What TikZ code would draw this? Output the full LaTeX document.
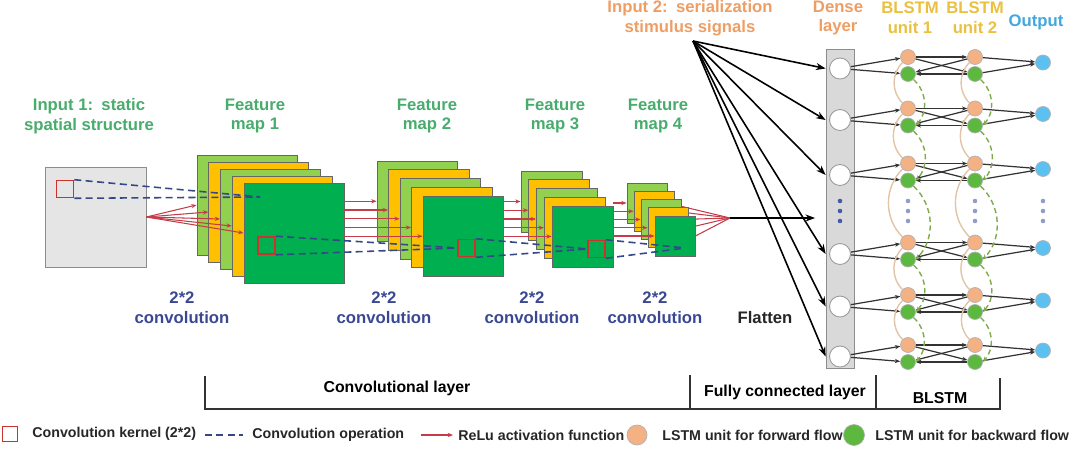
\documentclass[tikz,border=0pt]{standalone}
\usepackage{fontspec}
\setmainfont{Liberation Sans}
\usetikzlibrary{arrows.meta,backgrounds,calc}

\definecolor{txtgreen}{RGB}{72,172,108}
\definecolor{txtorange}{RGB}{238,158,100}
\definecolor{txtyellow}{RGB}{234,192,64}
\definecolor{txtblue}{RGB}{64,168,222}
\definecolor{convblue}{RGB}{58,72,148}
\definecolor{lgreen}{RGB}{146,208,80}
\definecolor{gold}{RGB}{255,192,0}
\definecolor{dgreen}{RGB}{0,176,80}
\definecolor{kernred}{RGB}{205,50,45}
\definecolor{relured}{RGB}{196,60,72}
\definecolor{dashblue}{RGB}{52,72,135}
\definecolor{fwcol}{RGB}{244,177,131}
\definecolor{bwcol}{RGB}{92,184,62}
\definecolor{outcol}{RGB}{92,192,240}
\definecolor{fwline}{RGB}{226,196,166}
\definecolor{bwline}{RGB}{128,170,78}
\definecolor{dotblue}{RGB}{70,90,170}

\begin{document}
\begin{tikzpicture}[x=0.02cm,y=-0.02cm,
    lbl/.style={font=\bfseries\fontsize{9.5}{11.3}\selectfont, align=center, inner sep=0},
    legtxt/.style={font=\bfseries\fontsize{8.1}{10}\selectfont, anchor=west, inner sep=0, text=black!85},
    fmap/.style={draw=black!60, line width=0.5pt, inner sep=0},
    kern/.style={draw=kernred, line width=0.9pt, minimum size=0.34cm, inner sep=0},
    relu/.style={draw=relured, line width=0.6pt, -{Stealth[length=3pt,width=2.4pt]}},
    convop/.style={draw=dashblue, line width=0.9pt, dash pattern=on 4pt off 2.5pt},
    sigline/.style={draw=black, line width=0.9pt, -{Stealth[length=5.5pt,width=4pt]}},
    densecell/.style={circle, draw=black!40, fill=white, line width=0.5pt, minimum size=0.42cm, inner sep=0},
    fwcell/.style={circle, draw=black!30, fill=fwcol, line width=0.4pt, minimum size=0.3cm, inner sep=0},
    bwcell/.style={circle, draw=black!30, fill=bwcol, line width=0.4pt, minimum size=0.3cm, inner sep=0},
    outcell/.style={circle, draw=black!30, fill=outcol, line width=0.4pt, minimum size=0.3cm, inner sep=0},
    cellink/.style={draw=black!80, line width=0.7pt, -{Stealth[length=3pt,width=2.4pt]}},
    fwcurve/.style={draw=fwline, line width=0.8pt},
    bwcurve/.style={draw=bwline, line width=0.8pt, dash pattern=on 3pt off 2pt, -{Stealth[length=3pt,width=2.6pt]}},
    brk/.style={draw=black!80, line width=0.8pt}]

    \useasboundingbox (0,0) rectangle (1080,467);

    % input 1 and feature maps
    \node[draw=black!45, fill=black!10, minimum width=2.02cm, minimum height=2cm, inner sep=0] (in1) at (95.5,217) {};
    \node[kern] (k0) at (65,189) {};

    \foreach \m/\x/\y/\s/\dx/\dy in {1/197/155/100/11.75/7, 2/377/161/80.5/11.5/8.75,
                                     3/521/171/61/7.75/8.75, 4/627/183/40/7/8.25}
        \foreach \l/\c [count=\n from 0] in {a/lgreen,b/gold,c/lgreen,d/gold,e/dgreen}
            \node[fmap, fill=\c, minimum size=\s*0.02cm] (m\m\l) at ({\x+\s/2+\n*\dx},{\y+\s/2+\n*\dy}) {};

    \node[kern] (k1) at (266.5,245.5) {};
    \node[kern] (k2) at (466.5,248) {};
    \node[kern] (k3) at (596.5,249) {};

    \coordinate (c1) at (260,197);
    \coordinate (c4) at (685,248);
    \coordinate (flat) at (730,218);

    % relu arrows
    \foreach \l in {a,...,e} {
        \draw[relu] (in1.east) -- (m1\l.west);
        \draw[relu] (m1e.east |- m2\l.west) -- (m2\l.west);
        \draw[relu] (m2e.east |- m3\l.west) -- (m3\l.west);
        \draw[relu] (m3e.east |- m4\l.west) -- (m4\l.west);
    }
    \begin{scope}[on background layer]
        \foreach \l in {a,...,e}
            \draw[relured, line width=0.6pt] (m4\l.east) -- (flat);
    \end{scope}

    % convolution operation
    \draw[convop] (k0.north east) -- (c1);
    \draw[convop] (k0.south east) -- (c1);
    \draw[convop] (k1.north east) -- (k2.west);
    \draw[convop] (k1.south east) -- (k2.west);
    \draw[convop] (k2.north east) -- (k3.west);
    \draw[convop] (k2.south east) -- (k3.west);
    \draw[convop] (k3.north east) -- (c4);
    \draw[convop] (k3.south east) -- (c4);

    % dense layer and BLSTM
    \node[draw=black!45, fill=black!15, minimum width=0.56cm, minimum height=6.38cm, inner sep=0] (dense) at (840,208.5) {};
    \coordinate (sigsrc) at (693,41);

    \foreach \i/\yy in {1/65.5,2/117,3/172,4/251,5/303.5,6/353.5} {
        \node[densecell] (d\i) at (840,\yy+3) {};
        \node[fwcell] (fa\i) at (908,\yy-8.5) {};
        \node[bwcell] (ba\i) at (908,\yy+8.5) {};
        \node[fwcell] (fb\i) at (975,\yy-8.5) {};
        \node[bwcell] (bb\i) at (975,\yy+8.5) {};
        \node[outcell] (o\i) at (1043,\yy-3) {};
        \draw[sigline] (sigsrc) -- (dense.west |- d\i);
        \draw[cellink] (d\i) -- (fa\i);
        \draw[cellink] (d\i) -- (ba\i);
        \draw[cellink] (fa\i) -- (fb\i);
        \draw[cellink] (fa\i) -- (bb\i);
        \draw[cellink] (fb\i) -- (ba\i);
        \draw[cellink] (bb\i) -- (ba\i);
        \draw[cellink] (fb\i) -- (o\i);
        \draw[cellink] (bb\i) -- (o\i);
    }
    \draw[sigline, shorten >=6pt] (flat) -- (dense.west |- flat);

    \foreach \i [count=\j from 2] in {1,...,5} {
        \draw[fwcurve] (fa\i.south west) to[bend right=45] (fa\j.north west);
        \draw[fwcurve] (fb\i.south west) to[bend right=45] (fb\j.north west);
        \draw[bwcurve] (ba\i.south east) to[bend left=45] (ba\j.east);
        \draw[bwcurve] (bb\i.south east) to[bend left=45] (bb\j.east);
    }

    \foreach \x/\c in {840/dotblue,908/dotblue!60,975/dotblue!60,1043/dotblue!60}
        \foreach \yy in {201,211,221}
            \fill[\c] (\x,\yy) circle (1.3pt);

    % labels
    \node[lbl, text=txtgreen] (lin1) at (89,116) {Input 1:\enspace static\\spatial structure};
    \node[lbl, text=txtgreen] (lfm1) at (255,116) {Feature\\map 1};
    \node[lbl, text=txtgreen] (lfm2) at (427,116) {Feature\\map 2};
    \node[lbl, text=txtgreen] (lfm3) at (555,116) {Feature\\map 3};
    \node[lbl, text=txtgreen] (lfm4) at (658,116) {Feature\\map 4};
    \node[lbl, text=convblue] (lcv1) at (182,308) {2*2\\convolution};
    \node[lbl, text=convblue] (lcv2) at (384,308) {2*2\\convolution};
    \node[lbl, text=convblue] (lcv3) at (532,308) {2*2\\convolution};
    \node[lbl, text=convblue] (lcv4) at (655,308) {2*2\\convolution};
    \node[lbl, text=black!85] (lflat) at (765,318) {Flatten};
    \node[lbl, text=txtorange] (lin2) at (690,18) {Input 2:\enspace serialization\\stimulus signals};
    \node[lbl, text=txtorange] (ldense) at (838,18) {Dense\\layer};
    \node[lbl, text=txtyellow] (lunit1) at (910,18) {BLSTM\\unit 1};
    \node[lbl, text=txtyellow] (lunit2) at (975,18) {BLSTM\\unit 2};
    \node[lbl, text=txtblue] (lout) at (1036,22) {Output};

    % layer brackets
    \draw[brk] (205,376) -- (205,409) -- (1000,409) -- (1000,378);
    \draw[brk] (690,375) -- (690,409);
    \draw[brk] (876,375) -- (876,409);
    \node[lbl, font=\bfseries\fontsize{9}{11}\selectfont] (lconv) at (397,388) {Convolutional layer};
    \node[lbl, font=\bfseries\fontsize{9}{11}\selectfont] (lfc) at (785,392) {Fully connected layer};
    \node[lbl, font=\bfseries\fontsize{9}{11}\selectfont] (lblstm) at (940,398) {BLSTM};

    % legend
    \node[kern, minimum size=0.3cm] (lgk) at (10,434) {};
    \node[legtxt] (lgt1) at (32,434) {Convolution kernel (2*2)};
    \coordinate (lgd) at (205,435);
    \draw[convop] (lgd) -- ++(38,0);
    \node[legtxt] (lgt2) at (252,435) {Convolution operation};
    \coordinate (lgr) at (421,435);
    \draw[relu] (lgr) -- ++(32,0);
    \node[legtxt] (lgt3) at (458,435) {ReLu activation function};
    \node[fwcell, minimum size=0.4cm] (lgf) at (637,435) {};
    \node[legtxt] (lgt4) at (662,435) {LSTM unit for forward flow};
    \node[bwcell, minimum size=0.42cm] (lgb) at (854,435) {};
    \node[legtxt] (lgt5) at (875,435) {LSTM unit for backward flow};
\end{tikzpicture}
\end{document}
